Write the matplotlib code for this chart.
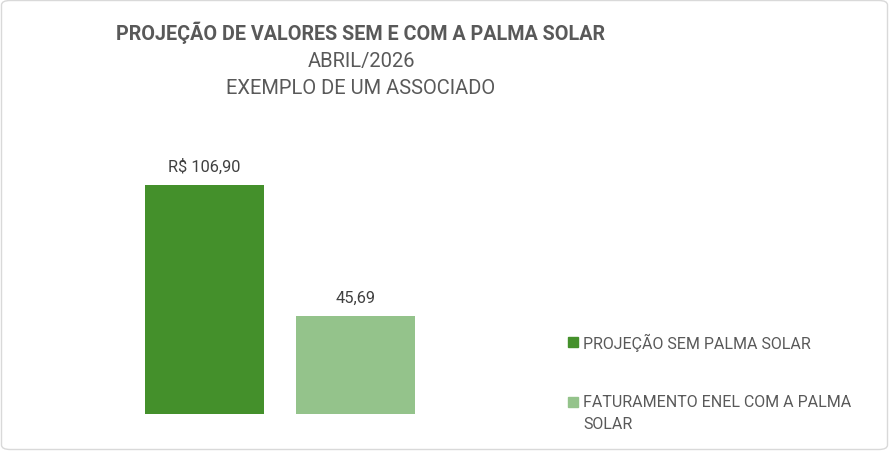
import matplotlib
matplotlib.use("Agg")
import matplotlib.pyplot as plt
from matplotlib.patches import FancyBboxPatch, Rectangle

categories = ["PROJEÇÃO SEM PALMA SOLAR", "FATURAMENTO ENEL COM A PALMA\nSOLAR"]
values = [106.90, 45.69]
labels = ["R$ 106,90", "45,69"]
colors = ["#44902B", "#94C38B"]
title_lines = ["PROJEÇÃO DE VALORES SEM E COM A PALMA SOLAR", "ABRIL/2026", "EXEMPLO DE UM ASSOCIADO"]

plt.rcParams['font.family'] = ['Roboto', 'DejaVu Sans']
W, H = 889, 452
fig = plt.figure(figsize=(W/100, H/100), dpi=100)
fig.patch.set_facecolor("white")
fig.patches.append(FancyBboxPatch((1.5/W, 1.5/H), 1-3/W, 1-3/H,
                                  boxstyle="round,pad=0,rounding_size=0.01",
                                  transform=fig.transFigure, fill=False,
                                  edgecolor="#D9D9D9", linewidth=1))

ax = fig.add_axes([129/W, (H-415)/H, 302/W, 257/H])
ax.set_xlim(-0.5, 1.5)
ax.set_ylim(0, 120)
ax.axis("off")
xs = list(range(len(values)))
bars = ax.bar(xs, values, width=0.788, color=colors)
for x, v, lab in zip(xs, values, labels):
    ax.annotate(lab, (x, v), xytext=(0, 13.7), textcoords="offset points",
                ha="center", va="center", fontsize=11.8, color="#404040")

txtc = "#595959"
fig.text(361/W, 1-33/H, title_lines[0], ha="center", va="center", fontsize=14.2,
         fontweight="bold", color=txtc)
fig.text(361/W, 1-62/H, title_lines[1], ha="center", va="center", fontsize=14.5, color=txtc)
fig.text(361/W, 1-88/H, title_lines[2], ha="center", va="center", fontsize=14.5, color=txtc)

# legend
leg_items = [(343, [categories[0]]), (403, categories[1].split("\n"))]
for (yc, lines), col in zip(leg_items, colors):
    fig.patches.append(Rectangle((568/W, 1-(yc+5)/H), 10/W, 10/H,
                                 transform=fig.transFigure, color=col))
    for i, ln in enumerate(lines):
        fig.text(583/W, 1-(yc+22*i)/H, ln, ha="left", va="center",
                 fontsize=11.5, color=txtc)

fig.savefig("out.png", dpi=100)
